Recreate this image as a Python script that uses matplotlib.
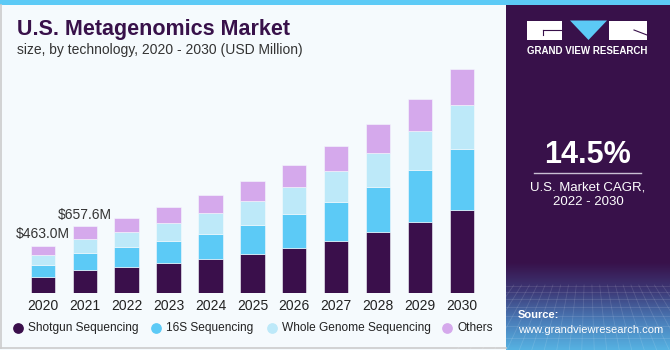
import matplotlib.pyplot as plt
import matplotlib.patches as mpatches
import numpy as np

plt.rcParams['font.family'] = ['Liberation Sans', 'DejaVu Sans']

# Data (USD Million)
years = ['2020', '2021', '2022', '2023', '2024', '2025', '2026', '2027', '2028', '2029', '2030']
shotgun = [157, 227, 261, 294, 336, 382, 448, 516, 604, 702, 817]
s16 = [124, 170, 189, 222, 248, 291, 327, 382, 441, 510, 594]
wgs = [98, 137, 153, 176, 199, 235, 265, 301, 330, 379, 434]
others = [84, 124, 134, 150, 180, 189, 216, 248, 281, 314, 350]
segments = ['Shotgun Sequencing', '16S Sequencing', 'Whole Genome Sequencing', 'Others']
colors = ['#3a0f4b', '#5ccaf6', '#bde9f9', '#d5a9ec']
bar_labels = {0: '$463.0M', 1: '$657.6M'}

W, H = 670, 350
fig = plt.figure(figsize=(6.7, 3.5), dpi=100)
fig.patch.set_facecolor('#f5fafd')

# background frame
bg = fig.add_axes([0, 0, 1, 1])
bg.set_xlim(0, W)
bg.set_ylim(H, 0)
bg.axis('off')
bg.add_patch(mpatches.Rectangle((0, 0), W, 5, color='#5ccaf6', lw=0))
bg.plot([0.5, 0.5], [5, 348], color='#cccccc', lw=1.2)
bg.plot([0, 506], [348, 348], color='#cccccc', lw=1.2)

# right panel
bg.add_patch(mpatches.Rectangle((506, 5), W - 506, H - 5, color='#38114a', lw=0))
grad = np.linspace(0, 1, 100)[:, None]
cmap_grad = plt.matplotlib.colors.LinearSegmentedColormap.from_list(
    'g', ['#38114a', '#3d3a78', '#4a7cb8', '#56b2e2'])
bg.imshow(grad, extent=(506, W, 350, 262), cmap=cmap_grad, aspect='auto', zorder=1)
for gx in np.linspace(506, W, 22):
    bg.plot([gx, gx + (gx - 588) * 0.6], [285, 350], color='white', alpha=0.12, lw=0.6, zorder=2)
for gy in [286, 292, 299, 307, 316, 326, 338]:
    bg.plot([506, W], [gy, gy], color='white', alpha=0.12, lw=0.6, zorder=2)

# logo
bg.add_patch(mpatches.Rectangle((527, 20.5), 35, 19.5, color='white', lw=0, zorder=3))
bg.add_patch(mpatches.Polygon([(570, 20.5), (607, 20.5), (588.5, 40)], color='#5ccaf6', lw=0, zorder=3))
bg.add_patch(mpatches.Rectangle((609, 20.5), 38, 19.5, color='white', lw=0, zorder=3))
bg.plot([543, 562], [30, 30], color='#38114a', lw=0.8, zorder=4)
bg.plot([543, 543], [30, 35], color='#38114a', lw=0.8, zorder=4)
bg.plot([634, 647], [30, 35], color='#38114a', lw=0.8, zorder=4)
bg.text(587, 51, 'GRAND VIEW RESEARCH', color='white', fontsize=7, fontweight='bold',
        ha='center', va='center', zorder=4)

bg.text(588, 155, '14.5%', color='white', fontsize=22, fontweight='bold', ha='center', va='center')
bg.plot([534, 641], [173, 173], color='#c9bfd3', lw=1)
bg.text(588, 188, 'U.S. Market CAGR,', color='white', fontsize=9.5, ha='center', va='center')
bg.text(588, 202, '2022 - 2030', color='white', fontsize=9.5, ha='center', va='center')
bg.text(518, 315, 'Source:', color='white', fontsize=8, fontweight='bold', ha='left', va='center', zorder=4)
bg.text(518, 330, 'www.grandviewresearch.com', color='white', fontsize=8, ha='left', va='center', zorder=4)

# titles
bg.text(17, 35, 'U.S. Metagenomics Market', color='#38114a', fontsize=15.5, fontweight='heavy',
        ha='left', va='baseline')
bg.text(17, 54, 'size, by technology, 2020 - 2030 (USD Million)', color='#333333', fontsize=10,
        ha='left', va='baseline')

# chart axes: centres at 42.8px (2020) .. 462px (2030), baseline at 293.3px
step = (462 - 42.8) / 10
left_px = 42.8 - 0.6 * step
right_px = 462 + 0.6 * step
ymax = 2300
scale = 9.8  # USD million per pixel
top_px = 293.3 - ymax / scale
ax = fig.add_axes([left_px / W, (H - 293.3) / H, (right_px - left_px) / W, (293.3 - top_px) / H])
ax.set_facecolor('none')
x = np.arange(len(years))
bottom = np.zeros(len(years))
for vals, col, name in zip([shotgun, s16, wgs, others], colors, segments):
    ax.bar(x, vals, 0.58, bottom=bottom, color=col, edgecolor='#f5fafd', linewidth=0.4, label=name)
    bottom += np.array(vals)
for i, txt in bar_labels.items():
    ax.text(i, bottom[i] + 45, txt, ha='center', va='bottom', fontsize=10, color='#333333')
ax.set_xlim(-0.6, len(years) - 0.4)
ax.set_ylim(0, ymax)
ax.set_xticks(x)
ax.set_xticklabels(years, fontsize=10, color='#222222')
ax.tick_params(axis='x', length=0, pad=4)
ax.set_yticks([])
for s in ax.spines.values():
    s.set_visible(False)

# legend
leg_x = [18, 156, 272, 447]
for xp, col, name in zip(leg_x, colors, segments):
    bg.scatter([xp], [327.7], s=45, color=col, zorder=5)
    bg.text(xp + 10, 327.7, name, fontsize=8.6, color='#222222', ha='left', va='center')

fig.savefig('out.png', dpi=100, facecolor=fig.get_facecolor())
